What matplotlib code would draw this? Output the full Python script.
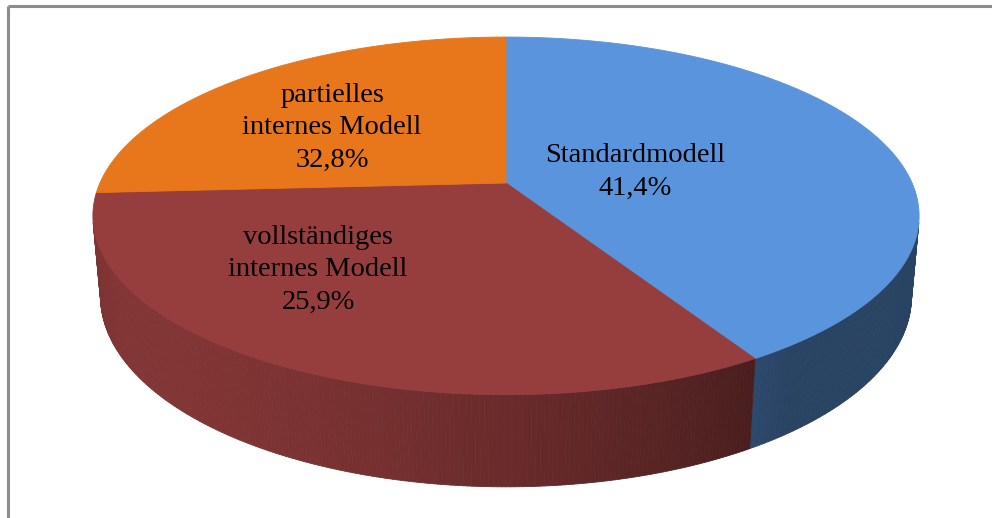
import numpy as np
import matplotlib
matplotlib.use("Agg")
import matplotlib.pyplot as plt
from matplotlib.collections import PolyCollection
from matplotlib.colors import to_rgb

# ---- data (slice shares as drawn, and the labels as printed) ----
categories = ["Standardmodell", "vollständiges\ninternes Modell", "partielles\ninternes Modell"]
slice_values = [41.4, 32.8, 25.9]          # drawn sizes (blue, red, orange)
label_pcts = ["41,4%", "25,9%", "32,8%"]    # percentages as printed on the chart
colors = ["#5A94DC", "#963D3D", "#E8761A"]

# ---- 3D perspective projection of the pie ----
elev = np.deg2rad(24.8)
D = 4.94
fx, fy = 2006.0, 2035.0
cx, cy = 506.0, 183.0
h = 0.216
ce, se = np.cos(elev), np.sin(elev)
cam = np.array([0.0, -D * ce, D * se])

def proj(X, Y, Z):
    depth = D + Y * ce - Z * se
    u = fx * X / depth
    v = fy * (Y * se + Z * ce) / depth
    return cx + u, cy - v

fig = plt.figure(figsize=(9.92, 5.18), dpi=100)
ax = fig.add_axes([0, 0, 1, 1])
ax.set_xlim(0, 992)
ax.set_ylim(518, 0)
ax.axis("off")

vals = np.array(slice_values, dtype=float)
fr = vals / vals.sum()
start = 90.0
bounds = []
a = start
for f in fr:
    b = a - f * 360.0
    bounds.append((a, b))
    a = b

light = np.array([-0.8, -0.6])

# side walls (only front-facing quads)
for (a0, a1), col in zip(bounds, colors):
    n = max(int(abs(a0 - a1) * 2), 4)
    th = np.deg2rad(np.linspace(a0, a1, n + 1))
    polys, fcs = [], []
    base = np.array(to_rgb(col))
    for i in range(n):
        t0, t1 = th[i], th[i + 1]
        tm = 0.5 * (t0 + t1)
        nrm = np.array([np.cos(tm), np.sin(tm), 0.0])
        P = np.array([np.cos(tm), np.sin(tm), -h / 2])
        if np.dot(cam - P, nrm) <= 0:
            continue
        x0t, y0t = proj(np.cos(t0), np.sin(t0), 0.0)
        x1t, y1t = proj(np.cos(t1), np.sin(t1), 0.0)
        x1b, y1b = proj(np.cos(t1), np.sin(t1), -h)
        x0b, y0b = proj(np.cos(t0), np.sin(t0), -h)
        polys.append([(x0t, y0t), (x1t, y1t), (x1b, y1b), (x0b, y0b)])
        d = max(0.0, np.dot(nrm[:2], light))
        fcs.append(np.clip(base * (0.45 + 0.42 * d), 0, 1))
    if polys:
        pc = PolyCollection(polys, facecolors=fcs, edgecolors=fcs, linewidths=0.6)
        ax.add_collection(pc)

# top faces
for (a0, a1), col in zip(bounds, colors):
    n = max(int(abs(a0 - a1) * 2), 4)
    th = np.deg2rad(np.linspace(a0, a1, n + 1))
    xs, ys = proj(np.cos(th), np.sin(th), np.zeros_like(th))
    x0, y0 = proj(0.0, 0.0, 0.0)
    pts = np.vstack([[x0, y0], np.column_stack([xs, ys])])
    ax.fill(pts[:, 0], pts[:, 1], facecolor=col, edgecolor=col, linewidth=0.6)

# labels
label_pos = [(635, 162), (318, 244), (332, 102)]
for cat, pct, (lx, ly) in zip(categories, label_pcts, label_pos):
    lines = cat.split("\n") + [pct]
    for i, ln in enumerate(lines):
        ax.text(lx, ly + i * 32.5, ln, ha="center", va="baseline",
                fontsize=20.5, family="Liberation Serif", color="black")

# frame lines (top and left only visible)
ax.plot([8, 992], [6, 6], color="#8C8C8C", lw=2.2, solid_capstyle="butt")
ax.plot([8, 8], [6, 518], color="#8C8C8C", lw=2.2, solid_capstyle="butt")

fig.savefig("out.png", dpi=100)
